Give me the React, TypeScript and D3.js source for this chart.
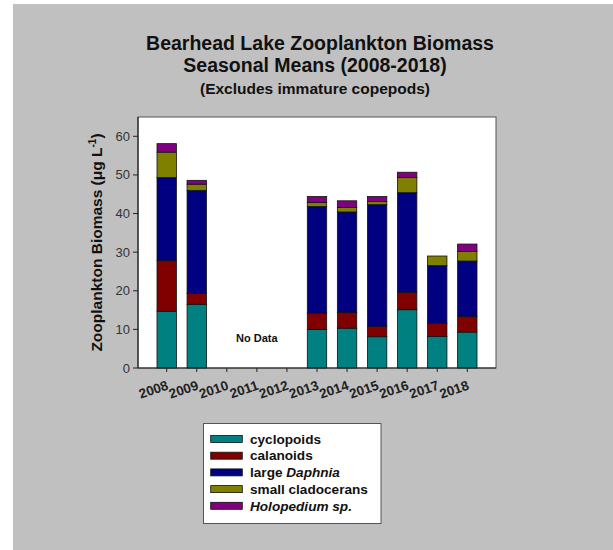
import React from 'react';
import * as d3 from 'd3';

const years = ['2008', '2009', '2010', '2011', '2012', '2013', '2014', '2015', '2016', '2017', '2018'];
const cyclopoids = [14.7, 16.5, null, null, null, 10.0, 10.3, 8.1, 15.1, 8.2, 9.3];
const calanoids = [13.1, 2.8, null, null, null, 4.2, 4.1, 2.7, 4.5, 3.4, 4.0];
const largeDaphnia = [21.5, 26.7, null, null, null, 27.6, 26.0, 31.5, 25.8, 14.9, 14.4];
const smallCladocerans = [6.6, 1.6, null, null, null, 1.1, 1.2, 0.8, 3.9, 2.5, 2.5];
const holopedium = [2.2, 1.0, null, null, null, 1.5, 1.7, 1.3, 1.4, 0.0, 1.9];
const yTicks = [0, 10, 20, 30, 40, 50, 60];

const seriesKeys = ['cyclopoids', 'calanoids', 'largeDaphnia', 'smallCladocerans', 'holopedium'];
const seriesColors = ['#008080', '#800000', '#000080', '#808000', '#800080'];

const FONT = 'Arial, "Liberation Sans", sans-serif';

export default function App() {
  const W = 613, H = 550;
  const x0 = 138, x1 = 496, yTop = 117, yBot = 368;

  const table = years.map((yr, i) => ({
    year: yr,
    hasData: cyclopoids[i] !== null,
    cyclopoids: cyclopoids[i] ?? 0,
    calanoids: calanoids[i] ?? 0,
    largeDaphnia: largeDaphnia[i] ?? 0,
    smallCladocerans: smallCladocerans[i] ?? 0,
    holopedium: holopedium[i] ?? 0,
  }));

  const stacked = d3.stack<any>().keys(seriesKeys)(table);

  const x = d3.scaleBand<string>().domain(years).range([x0, x1]).paddingInner(0.355).paddingOuter(0.632);
  const y = d3.scaleLinear().domain([0, 65]).range([yBot, yTop]);

  const legendItems = [
    { label: [{ t: 'cyclopoids', i: false }] },
    { label: [{ t: 'calanoids', i: false }] },
    { label: [{ t: 'large ', i: false }, { t: 'Daphnia', i: true }] },
    { label: [{ t: 'small cladocerans', i: false }] },
    { label: [{ t: 'Holopedium sp.', i: true }] },
  ];

  return (
    <div style={{ position: 'absolute', left: 0, top: 0 }}>
      <svg width={W} height={H} style={{ display: 'block' }} fontFamily={FONT}>
        <rect x={0} y={0} width={W} height={H} fill="#ffffff" />
        <rect x={13} y={4} width={W - 13} height={H - 4} fill="#c0c0c0" />

        {/* Titles */}
        <text x={320} y={50} textAnchor="middle" fontSize={19.5} fontWeight="bold" fill="#111">
          Bearhead Lake Zooplankton Biomass
        </text>
        <text x={315} y={72} textAnchor="middle" fontSize={19.5} fontWeight="bold" fill="#111">
          Seasonal Means (2008-2018)
        </text>
        <text x={315} y={94} textAnchor="middle" fontSize={15.5} fontWeight="bold" fill="#111">
          (Excludes immature copepods)
        </text>

        {/* Plot area */}
        <rect x={x0} y={yTop} width={x1 - x0} height={yBot - yTop} fill="#ffffff" stroke="#555" strokeWidth={1} />

        {/* Bars */}
        {stacked.map((layer, si) => (
          <g key={seriesKeys[si]} fill={seriesColors[si]}>
            {layer.map((d: any) => {
              if (!d.data.hasData) return null;
              const h = y(d[0]) - y(d[1]);
              if (h <= 0.01) return null;
              return (
                <rect
                  key={d.data.year}
                  x={x(d.data.year)}
                  y={y(d[1])}
                  width={x.bandwidth()}
                  height={h}
                  stroke="#111"
                  strokeWidth={0.8}
                />
              );
            })}
          </g>
        ))}

        {/* No Data */}
        <text x={(x('2011') as number) + x.bandwidth() / 2} y={342} textAnchor="middle" fontSize={11} fontWeight="bold" fill="#111">
          No Data
        </text>

        {/* Axes lines */}
        <line x1={x0} x2={x0} y1={yTop} y2={yBot} stroke="#222" strokeWidth={1.2} />
        <line x1={x0} x2={x1} y1={yBot} y2={yBot} stroke="#222" strokeWidth={1.2} />

        {/* Y ticks */}
        {yTicks.map((t) => (
          <g key={t}>
            <line x1={x0 - 5} x2={x0} y1={y(t)} y2={y(t)} stroke="#222" strokeWidth={1} />
            <text x={130} y={y(t)} dy="0.35em" textAnchor="end" fontSize={13} fill="#333">
              {t}
            </text>
          </g>
        ))}

        {/* X ticks */}
        {years.map((yr) => {
          const cx = (x(yr) as number) + x.bandwidth() / 2;
          return (
            <g key={yr}>
              <line x1={cx} x2={cx} y1={yBot} y2={yBot + 4} stroke="#222" strokeWidth={1} />
              <text
                transform={`translate(${cx + 2.5},${yBot + 21}) rotate(-19)`}
                textAnchor="end"
                fontSize={13.5}
                fontWeight="bold"
                fill="#222"
              >
                {yr}
              </text>
            </g>
          );
        })}

        {/* Y label */}
        <text transform={`translate(102,${(yTop + yBot) / 2}) rotate(-90)`} textAnchor="middle" fontSize={15.5} fontWeight="bold" fill="#111">
          Zooplankton Biomass (μg L
          <tspan dy={-6} fontSize={10}>-1</tspan>
          <tspan dy={6}>)</tspan>
        </text>

        {/* Legend */}
        <rect x={203.5} y={423.5} width={177.5} height={100} fill="#ffffff" stroke="#555" strokeWidth={1} />
        {legendItems.map((it, i) => {
          const cy = 439 + i * 16.7;
          return (
            <g key={i}>
              <rect x={210.7} y={cy - 3.5} width={31.6} height={7} fill={seriesColors[i]} stroke="#111" strokeWidth={0.8} />
              <text x={250} y={cy} dy="0.35em" fontSize={13.6} fontWeight="bold" fill="#111">
                {it.label.map((p, j) => (
                  <tspan key={j} fontStyle={p.i ? 'italic' : 'normal'}>{p.t}</tspan>
                ))}
              </text>
            </g>
          );
        })}
      </svg>
    </div>
  );
}
